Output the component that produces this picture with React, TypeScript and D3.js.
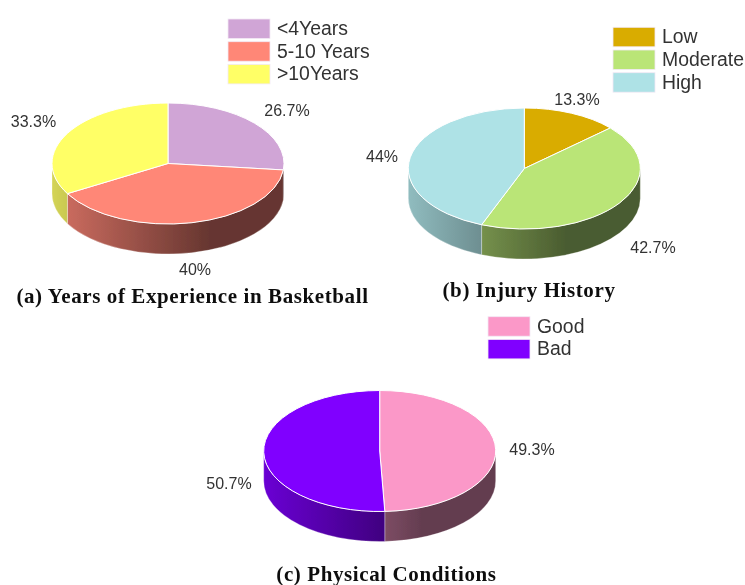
import { useMemo } from "react";
import * as d3 from "d3";

// (a) years of experience
const expLabels = ["<4Years", "5-10 Years", ">10Years"];
const expValues = [26.7, 40, 33.3];
const expColors = ["#d0a5d6", "#ff8777", "#ffff66"];
const expText = ["26.7%", "40%", "33.3%"];

// (b) injury history
const injuryLabels = ["Low", "Moderate", "High"];
const injuryValues = [13.3, 42.7, 44];
const injuryColors = ["#d9ac00", "#bae577", "#aee2e6"];
const injuryText = ["13.3%", "42.7%", "44%"];

// (c) physical conditions
const condLabels = ["Good", "Bad"];
const condValues = [49.3, 50.7];
const condColors = ["#fb98c8", "#8000ff"];
const condText = ["49.3%", "50.7%"];

const RX = 116;
const RY = 60.5;
const DEPTH = 30;

type PieProps = {
  id: string;
  cx: number;
  cy: number;
  values: number[];
  colors: string[];
  text: string[];
  textPos: [number, number][];
  labels: string[];
  legendX: number;
  legendY: number;
  title: string;
  titleX: number;
  titleY: number;
};

function Pie3D(props: PieProps) {
  const { id, cx, cy, values, colors, text, textPos, labels, legendX, legendY, title, titleX, titleY } = props;

  const arcs = useMemo(() => d3.pie<number>().sort(null)(values), [values]);
  const arc = d3.arc<d3.PieArcDatum<number>>().innerRadius(0).outerRadius(RX);

  const px = (a: number) => RX * Math.sin(a);
  const py = (a: number) => -RY * Math.cos(a);

  // front wall only shows between 90 and 270 degrees
  const walls = arcs
    .map((d, i) => {
      const a0 = Math.max(d.startAngle, Math.PI / 2);
      const a1 = Math.min(d.endAngle, (3 * Math.PI) / 2);
      if (a1 <= a0) return null;
      const path =
        `M${px(a0)},${py(a0)}` +
        `A${RX},${RY} 0 0 1 ${px(a1)},${py(a1)}` +
        `L${px(a1)},${py(a1) + DEPTH}` +
        `A${RX},${RY} 0 0 0 ${px(a0)},${py(a0) + DEPTH}Z`;
      return { path, i };
    })
    .filter(Boolean) as { path: string; i: number }[];

  const mix = (c: string, k: number) => d3.interpolateRgb(c, "#000")(k);

  return (
    <g>
      <defs>
        {colors.map((c, i) => (
          <linearGradient
            key={i}
            id={`${id}-wall-${i}`}
            gradientUnits="userSpaceOnUse"
            x1={-RX}
            x2={RX}
            y1={0}
            y2={0}
          >
            <stop offset="0" stopColor={mix(c, 0.17)} />
            <stop offset="0.68" stopColor={mix(c, 0.6)} />
            <stop offset="1" stopColor={mix(c, 0.6)} />
          </linearGradient>
        ))}
      </defs>
      <g transform={`translate(${cx},${cy})`}>
        {walls.map((w) => (
          <path
            key={w.i}
            d={w.path}
            fill={`url(#${id}-wall-${w.i})`}
            stroke="#ffffff"
            strokeOpacity={0.5}
            strokeWidth={0.6}
          />
        ))}
        <g transform={`scale(1,${RY / RX})`}>
          {arcs.map((d, i) => (
            <path
              key={i}
              d={arc(d) as string}
              fill={colors[i]}
              stroke="#ffffff"
              strokeWidth={1}
              vectorEffect="non-scaling-stroke"
            />
          ))}
        </g>
      </g>
      {text.map((t, i) => (
        <text
          key={t}
          x={textPos[i][0]}
          y={textPos[i][1]}
          textAnchor="middle"
          fontFamily="'Liberation Sans', Arial, sans-serif"
          fontSize={16}
          fill="#333333"
        >
          {t}
        </text>
      ))}
      {labels.map((l, i) => (
        <g key={l} transform={`translate(${legendX},${legendY + i * 22.7})`}>
          <rect width={42} height={19.5} fill={colors[i]} stroke="#f3e9f5" strokeWidth={0.8} />
          <text
            x={49}
            y={16}
            fontFamily="'Liberation Sans', Arial, sans-serif"
            fontSize={19.4}
            fill="#333333"
          >
            {l}
          </text>
        </g>
      ))}
      <text
        x={titleX}
        y={titleY}
        textAnchor="middle"
        fontFamily="'Liberation Serif', 'Times New Roman', serif"
        fontWeight="bold"
        fontSize={21}
        letterSpacing={0.6}
        fill="#111111"
      >
        {title}
      </text>
    </g>
  );
}

export default function App() {
  return (
    <svg
      width={745}
      height={585}
      style={{ position: "absolute", left: 0, top: 0, background: "#fff" }}
    >
      <defs>
        <filter id="soft" x="0" y="0" width="100%" height="100%">
          <feGaussianBlur stdDeviation="0.45" />
        </filter>
      </defs>
      <g filter="url(#soft)">
        <rect width={745} height={585} fill="#fff" />
        <Pie3D
          id="exp"
          cx={168}
          cy={163.5}
          values={expValues}
          colors={expColors}
          text={expText}
          textPos={[[287, 116], [195, 275], [33.5, 127]]}
          labels={expLabels}
          legendX={228}
          legendY={19}
          title="(a) Years of Experience in Basketball"
          titleX={192.5}
          titleY={302.7}
        />
        <Pie3D
          id="inj"
          cx={524.3}
          cy={168.5}
          values={injuryValues}
          colors={injuryColors}
          text={injuryText}
          textPos={[[577, 105], [653, 253], [382, 162]]}
          labels={injuryLabels}
          legendX={613}
          legendY={27.3}
          title="(b) Injury History"
          titleX={529}
          titleY={296.8}
        />
        <Pie3D
          id="cond"
          cx={379.7}
          cy={451}
          values={condValues}
          colors={condColors}
          text={condText}
          textPos={[[532, 455], [229, 489]]}
          labels={condLabels}
          legendX={488}
          legendY={316.7}
          title="(c) Physical Conditions"
          titleX={386.5}
          titleY={581}
        />
      </g>
    </svg>
  );
}
